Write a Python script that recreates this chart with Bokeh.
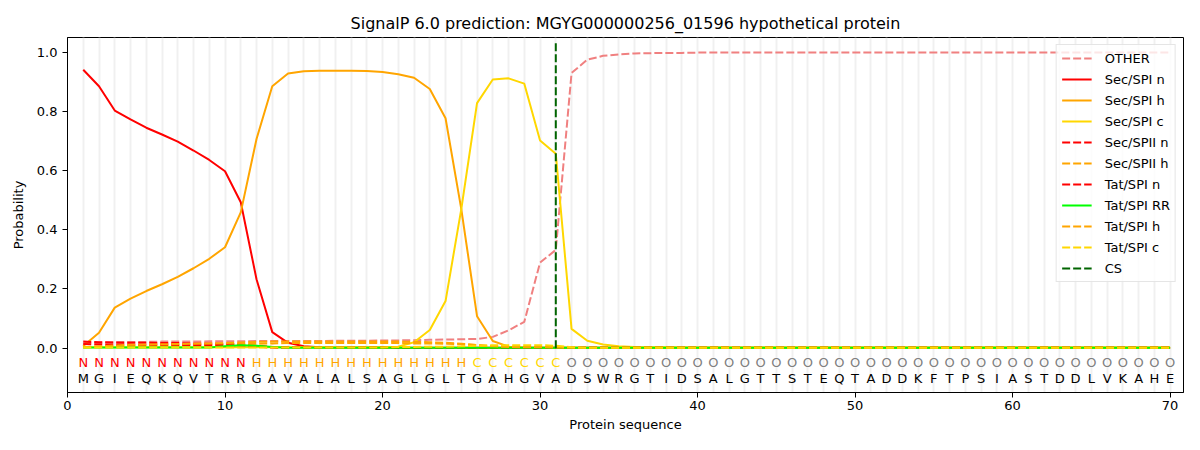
from bokeh.plotting import figure
from bokeh.models import FixedTicker, Range1d, ColumnDataSource, Legend
from bokeh.core.properties import value
from bokeh.embed import file_html
from bokeh.resources import INLINE

sequence = list("MGIEQKQVTRRGAVALALSAGLGLTGAHGVADSWRGTIDSALGTTSTEQTADDKFTPSIASTDDLVKAHE")
labels = list("N" * 11 + "H" * 14 + "C" * 6 + "O" * 39)
positions = list(range(1, len(sequence) + 1))
cs_position = 31

other = [0.018, 0.019, 0.020, 0.021, 0.021, 0.022, 0.022, 0.022, 0.023, 0.023,
         0.023, 0.024, 0.024, 0.024, 0.024, 0.024, 0.025, 0.025, 0.025, 0.026,
         0.026, 0.027, 0.028, 0.029, 0.030, 0.031, 0.038, 0.060, 0.089, 0.289,
         0.332, 0.930, 0.975, 0.988, 0.993, 0.996, 0.997, 0.998, 0.998, 0.999] + [0.999] * 30
sec_spi_n = [0.941, 0.885, 0.803, 0.773, 0.745, 0.722, 0.698, 0.668, 0.636, 0.598,
             0.493, 0.233, 0.054, 0.018, 0.006, 0.003, 0.002, 0.002, 0.002, 0.002] + [0.001] * 50
sec_spi_h = [0.007, 0.052, 0.137, 0.167, 0.193, 0.216, 0.241, 0.270, 0.302, 0.341,
             0.459, 0.707, 0.885, 0.928, 0.936, 0.938, 0.938, 0.938, 0.937, 0.933,
             0.926, 0.914, 0.876, 0.777, 0.470, 0.108, 0.024, 0.005, 0.002, 0.001] + [0.001] * 40
sec_spi_c = [0.003] * 20 + [0.005, 0.020, 0.061, 0.159, 0.470, 0.828, 0.908, 0.912, 0.894, 0.702,
                            0.657, 0.065, 0.025, 0.012, 0.006, 0.004, 0.003, 0.003, 0.002, 0.002] + [0.002] * 30
sec_spii_n = [0.022, 0.020, 0.019, 0.018, 0.018, 0.017, 0.017, 0.016, 0.016, 0.015,
              0.013, 0.008, 0.004, 0.002] + [0.001] * 56
sec_spii_h = [0.003, 0.005, 0.007, 0.008, 0.009, 0.010, 0.010, 0.011, 0.011, 0.012,
              0.013, 0.015, 0.016, 0.017, 0.017, 0.017, 0.017, 0.017, 0.017, 0.017,
              0.017, 0.016, 0.016, 0.015, 0.013, 0.010, 0.007, 0.005, 0.004, 0.004,
              0.003] + [0.001] * 39
tat_spi_n = [0.014, 0.013, 0.012, 0.012, 0.011, 0.011, 0.011, 0.010, 0.010, 0.010,
             0.008, 0.005, 0.002] + [0.001] * 57
tat_spi_rr = [0.002] * 9 + [0.006, 0.010, 0.008, 0.004] + [0.001] * 57
tat_spi_h = [0.003, 0.006, 0.009, 0.011, 0.012, 0.013, 0.014, 0.015, 0.016, 0.017,
             0.019, 0.021, 0.022, 0.022, 0.022, 0.022, 0.022, 0.022, 0.022, 0.022,
             0.022, 0.021, 0.020, 0.018, 0.015, 0.010, 0.006, 0.004, 0.003, 0.003,
             0.002] + [0.001] * 39
tat_spi_c = [0.002] * 20 + [0.004, 0.004, 0.005, 0.005, 0.006, 0.008, 0.010, 0.010, 0.010, 0.010,
                            0.008, 0.003] + [0.001] * 38

series = [
    ("OTHER", other, "#F08080", "dashed"),
    ("Sec/SPI n", sec_spi_n, "#FF0000", "solid"),
    ("Sec/SPI h", sec_spi_h, "#FFA500", "solid"),
    ("Sec/SPI c", sec_spi_c, "#FFD700", "solid"),
    ("Sec/SPII n", sec_spii_n, "#FF0000", "dashed"),
    ("Sec/SPII h", sec_spii_h, "#FFA500", "dashed"),
    ("Tat/SPI n", tat_spi_n, "#FF0000", "dashed"),
    ("Tat/SPI RR", tat_spi_rr, "#00FF00", "solid"),
    ("Tat/SPI h", tat_spi_h, "#FFA500", "dashed"),
    ("Tat/SPI c", tat_spi_c, "#FFD700", "dashed"),
]
label_colors = {"N": "#FF0000", "H": "#FFA500", "C": "#FFD700", "O": "#808080"}

FONT = "DejaVu Sans"
DASH = "8 3"

p = figure(width=1184, height=434, output_backend="svg", toolbar_location=None,
           title="SignalP 6.0 prediction: MGYG000000256_01596 hypothetical protein",
           x_range=Range1d(0, 70.85), y_range=Range1d(-0.15, 1.05),
           min_border_left=67, min_border_right=1, min_border_top=37, min_border_bottom=42)

p.title.align = "center"
p.title.text_font = FONT
p.title.text_font_size = "16px"
p.title.text_font_style = "normal"
p.title.text_color = "black"

p.xgrid.ticker = FixedTicker(ticks=positions)
p.xgrid.grid_line_color = "#f0f0f0"
p.xgrid.grid_line_width = 2
p.ygrid.grid_line_color = None

p.xaxis.ticker = FixedTicker(ticks=[0, 10, 20, 30, 40, 50, 60, 70])
p.yaxis.ticker = FixedTicker(ticks=[0.0, 0.2, 0.4, 0.6, 0.8, 1.0])
p.yaxis.major_label_overrides = {0.0: "0.0", 0.2: "0.2", 0.4: "0.4", 0.6: "0.6", 0.8: "0.8", 1.0: "1.0"}
p.xaxis.axis_label = "Protein sequence"
p.yaxis.axis_label = "Probability"
for ax in (p.xaxis, p.yaxis):
    ax.axis_label_text_font = FONT
    ax.axis_label_text_font_size = "13px"
    ax.axis_label_text_font_style = "normal"
    ax.axis_label_text_color = "black"
    ax.major_label_text_font = FONT
    ax.major_label_text_font_size = "13px"
    ax.major_label_text_color = "black"
    ax.minor_tick_line_color = None
    ax.major_tick_in = 0
    ax.major_tick_out = 5
    ax.axis_line_color = "black"
    ax.major_tick_line_color = "black"
p.xaxis.major_label_standoff = 3
p.xaxis.axis_label_standoff = 4
p.yaxis.major_label_standoff = 5
p.yaxis.axis_label_standoff = 8
p.outline_line_color = "black"
p.outline_line_alpha = 1.0

items = []
for name, vals, color, dash in series:
    r = p.line(positions, vals, line_color=color, line_width=2,
               line_dash=(DASH if dash == "dashed" else "solid"))
    items.append((name, [r]))

cs = p.segment(x0=[cs_position], y0=[0.0], x1=[cs_position], y1=[1.035],
               line_color="#006400", line_width=2, line_dash=DASH)
items.append(("CS", [cs]))

src_lab = ColumnDataSource(dict(x=positions, y=[-0.047] * len(labels), t=labels,
                                c=[label_colors[l] for l in labels]))
p.text(x="x", y="y", text="t", text_color="c", source=src_lab, text_align="center",
       text_baseline="middle", text_font=value(FONT), text_font_size="13px")
src_seq = ColumnDataSource(dict(x=positions, y=[-0.102] * len(sequence), t=sequence))
p.text(x="x", y="y", text="t", text_color="black", source=src_seq, text_align="center",
       text_baseline="middle", text_font=value(FONT), text_font_size="13px")

legend = Legend(items=items, location="top_right")
legend.label_text_font = FONT
legend.label_text_font_size = "13px"
legend.label_text_color = "black"
legend.glyph_width = 30
legend.glyph_height = 16
legend.label_height = 16
legend.label_standoff = 13
legend.spacing = 5
legend.padding = 5
legend.margin = 7
legend.border_line_color = "#cccccc"
legend.background_fill_alpha = 0.8
p.add_layout(legend)

open("out.html", "w").write(file_html(p, INLINE))
